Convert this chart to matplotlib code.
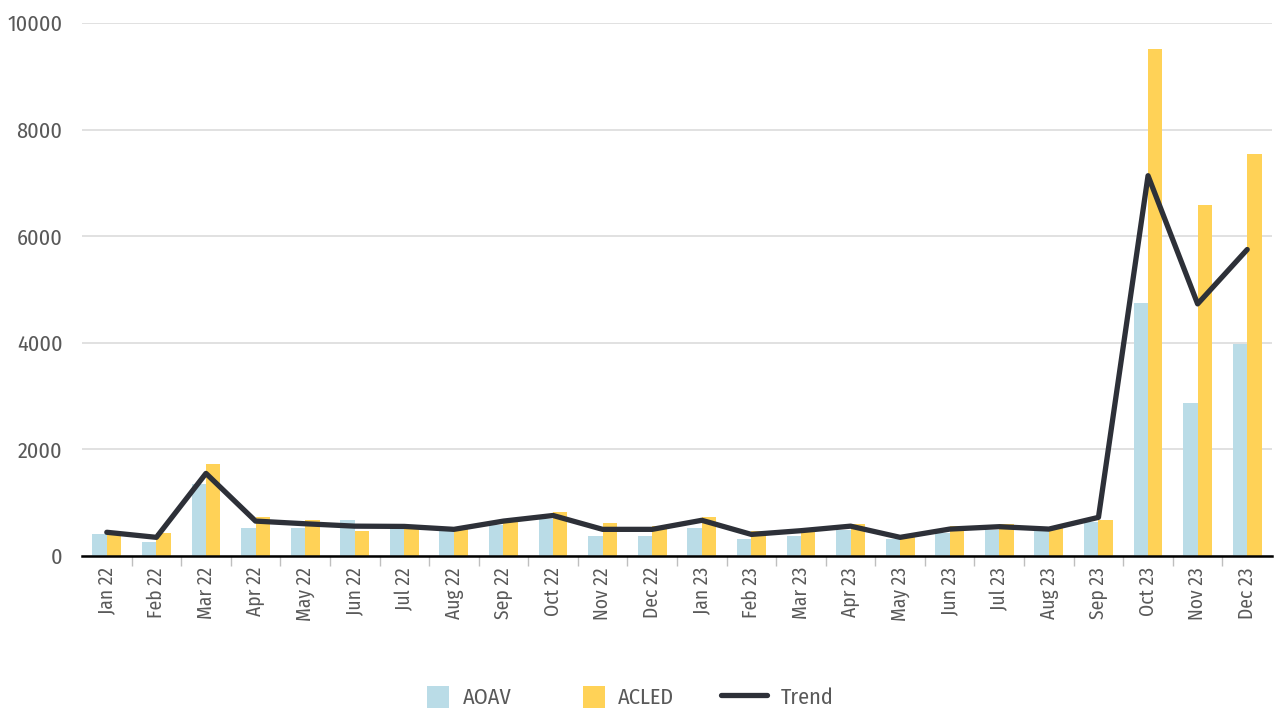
import matplotlib.pyplot as plt
import matplotlib.patches as mpl_p
from matplotlib.legend_handler import HandlerPatch
from matplotlib.ticker import FixedLocator, MultipleLocator
import numpy as np

plt.rcParams['font.family'] = ['Fira Sans Condensed', 'Roboto Condensed',
                               'Asap Condensed', 'Archivo Narrow', 'DejaVu Sans']

# monthly counts
months = ["Jan 22", "Feb 22", "Mar 22", "Apr 22", "May 22", "Jun 22",
          "Jul 22", "Aug 22", "Sep 22", "Oct 22", "Nov 22", "Dec 22",
          "Jan 23", "Feb 23", "Mar 23", "Apr 23", "May 23", "Jun 23",
          "Jul 23", "Aug 23", "Sep 23", "Oct 23", "Nov 23", "Dec 23"]
aoav = [420, 270, 1360, 530, 530, 675, 600, 480, 580, 700, 375, 375,
        530, 320, 375, 490, 310, 440, 490, 480, 645, 4750, 2875, 3970]
acled = [425, 425, 1725, 730, 680, 470, 500, 510, 645, 820, 625, 560,
         725, 470, 520, 600, 390, 570, 600, 520, 675, 9520, 6590, 7535]
trend = [445, 350, 1550, 655, 605, 560, 555, 500, 655, 760, 500, 500,
         670, 405, 475, 560, 350, 505, 550, 505, 725, 7135, 4730, 5750]

BLUE = "#badce7"
YELLOW = "#ffd257"
DARK = "#2d3038"
TEXT = "#595959"


def square_patch(legend, orig_handle, xdescent, ydescent, width, height, fontsize):
    # square swatch sitting at the right end of the handle box
    return mpl_p.Rectangle((width - height - xdescent, -ydescent), height, height)


fig = plt.figure(figsize=(12.74, 7.11), dpi=100)
ax = fig.add_axes([82 / 1274, 1 - 556 / 711, 1190 / 1274, 533 / 711])

x = np.arange(len(months))
w = 0.29
b1 = ax.bar(x - w / 2, aoav, width=w, color=BLUE, label="AOAV", zorder=2)
b2 = ax.bar(x + w / 2, acled, width=w, color=YELLOW, label="ACLED", zorder=2)
ln, = ax.plot(x, trend, color=DARK, lw=3.8, solid_capstyle="round",
              solid_joinstyle="round", label="Trend", zorder=3)

ax.set_xlim(-0.5, len(months) - 0.5)
ax.set_ylim(0, 10000)
ax.yaxis.set_major_locator(MultipleLocator(2000))
ax.grid(axis="y", color="#dcdcdc", lw=1.2, zorder=0)

ax.set_xticks(x)
ax.set_xticklabels(months, rotation=90, fontsize=14, color=TEXT)
ax.xaxis.set_minor_locator(FixedLocator(np.arange(0.5, len(months) - 1, 1)))
ax.tick_params(axis="x", which="major", length=0, pad=8)
ax.tick_params(axis="x", which="minor", length=7, color="#bfbfbf", width=1)
ax.tick_params(axis="y", length=0, pad=14, labelsize=16, labelcolor=TEXT)

for side in ("top", "right", "left"):
    ax.spines[side].set_visible(False)
ax.spines["bottom"].set_color("black")
ax.spines["bottom"].set_linewidth(1.8)
ax.spines["bottom"].set_zorder(4)

sq = HandlerPatch(patch_func=square_patch)
leg = fig.legend([b1[0], b2[0], ln], ["AOAV", "ACLED", "Trend"], loc="center",
                 bbox_to_anchor=(618 / 1274, 1 - 697 / 711),
                 ncol=3, frameon=False, fontsize=16, handlelength=2.1,
                 handleheight=1.15, handletextpad=0.6, columnspacing=2.1,
                 handler_map={b1[0]: sq, b2[0]: sq})
for t in leg.get_texts():
    t.set_color(TEXT)

fig.savefig("out.png", dpi=100)
